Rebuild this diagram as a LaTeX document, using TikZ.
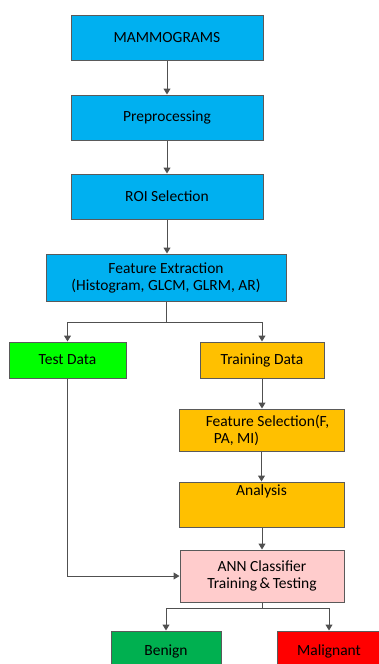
\documentclass[tikz,border=0pt]{standalone}
\usepackage{fontspec}
\setmainfont{Carlito}
\usetikzlibrary{arrows.meta}
\definecolor{cblue}{HTML}{00B0F0}
\definecolor{cgreen}{HTML}{00FF00}
\definecolor{corange}{HTML}{FFC000}
\definecolor{cpink}{HTML}{FFCCCC}
\definecolor{cdgreen}{HTML}{00B050}
\definecolor{cred}{HTML}{FF0000}
\definecolor{cborder}{HTML}{5A5A5A}
\definecolor{carrow}{HTML}{505050}
\begin{document}
\begin{tikzpicture}[x=1pt,y=-1pt,
  txt/.style={font=\fontsize{15.5}{19}\selectfont},
  box/.style={draw=cborder,line width=1pt,rectangle,inner sep=0pt,align=center,txt},
  conn/.style={draw=carrow,line width=1pt,-{Triangle[length=6pt,width=7pt]}},
  plain/.style={draw=carrow,line width=1pt}]
\useasboundingbox (0,0) rectangle (379,664);
\clip (0,0) rectangle (379,664);
\node[box,fill=cblue,minimum width=192pt,minimum height=45pt] (mam) at (167,37.5) {MAMMOGRAMS};
\node[box,fill=cblue,minimum width=192pt,minimum height=45pt] (pre) at (167,117.5) {Preprocessing};
\node[box,fill=cblue,minimum width=192pt,minimum height=45pt] (roi) at (167,196.5) {ROI Selection};
\node[box,fill=cblue,minimum width=240pt,minimum height=47pt] (fe) at (166,277.5) {Feature Extraction\\[-2pt](Histogram, GLCM, GLRM, AR)};
\node[box,fill=cgreen,minimum width=117pt,minimum height=36pt] (test) at (67.5,360) {Test Data};
\node[box,fill=corange,minimum width=124pt,minimum height=36pt] (train) at (262,360) {Training Data};
\node[box,fill=corange,minimum width=165pt,minimum height=42pt] (fs) at (261.5,430) {\hspace*{12pt}Feature Selection(F,\\[-2pt]PA, MI)\hspace*{50pt}};
\node[box,fill=corange,minimum width=165pt,minimum height=45pt] (an) at (261.5,504.5) {};
\node[txt,anchor=north,inner sep=0pt] (antext) at (261.5,485) {Analysis};
\node[box,fill=cpink,minimum width=164pt,minimum height=52pt] (ann) at (262,576) {ANN Classifier\\[-2pt]Training\,\&\,Testing};
\node[box,fill=cdgreen,minimum width=110pt,minimum height=40pt] (ben) at (166,651) {Benign};
\node[box,fill=cred,minimum width=104pt,minimum height=40pt] (mal) at (329,651) {Malignant};
\draw[conn] (mam) -- (pre);
\draw[conn] (pre) -- (roi);
\draw[conn] (roi.south) -- (roi.south |- fe.north);
\coordinate (b1) at (166,322);
\draw[plain] (fe.south) -- (b1);
\draw[conn] (b1) -| (test.north);
\draw[conn] (b1) -| (train.north);
\draw[conn] (train) -- (train.south |- fs.north);
\draw[conn] (fs.south -| an.north) -- (an.north);
\draw[conn] (an.south -| ann.north) -- (ann.north);
\draw[conn] (test.south) |- (ann.west);
\coordinate (b2) at (262,608);
\draw[plain] (ann.south) -- (b2);
\draw[conn] (b2) -| (ben.north);
\draw[conn] (b2) -| (mal.north);
\end{tikzpicture}
\end{document}
